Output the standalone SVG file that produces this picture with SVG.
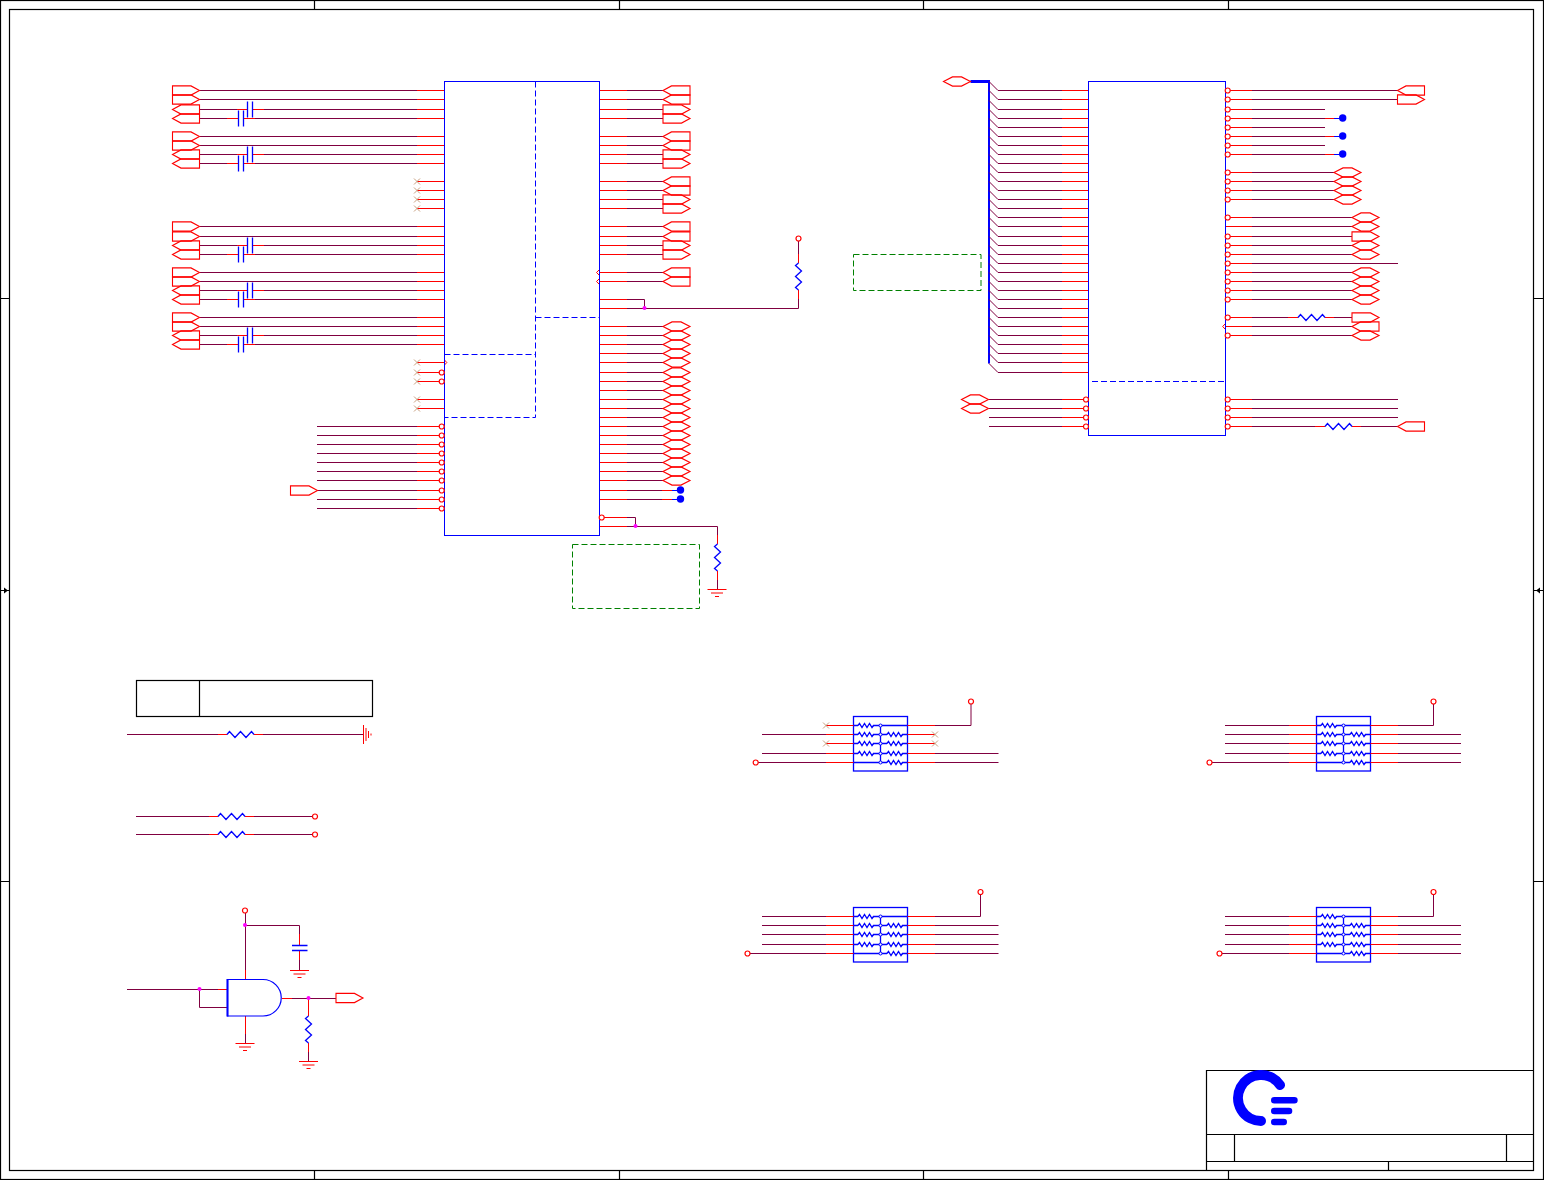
<svg xmlns="http://www.w3.org/2000/svg" width="1544" height="1180" viewBox="0 0 1544 1180">
<style>
.k{fill:none;stroke:#000;stroke-width:1.2}
.p{fill:none;stroke:#800040;stroke-width:1}
.r{fill:none;stroke:#f00;stroke-width:1}
.b{fill:none;stroke:#00f;stroke-width:1}
.z{fill:none;stroke:#00f;stroke-width:1.3}
.d{fill:none;stroke:#00f;stroke-width:1;stroke-dasharray:6 3}
.g{fill:none;stroke:#008000;stroke-width:1;stroke-dasharray:6 3}
.port{fill:none;stroke:#f00;stroke-width:1.1}
.pin{fill:#fff;stroke:#f00;stroke-width:1.2}
.x{fill:none;stroke:#c8a080;stroke-width:1}
.j{fill:#f0f}
.dot{fill:#00f}
</style>
<defs>
<path id="hex" class="port" d="M0 0L9 -4.6H18L27 0L18 4.6H9Z"/>
<path id="pr" class="port" d="M0 -4.6H18.5L27 0L18.5 4.6H0Z"/>
<path id="pl" class="port" d="M0 0L8.5 -4.6H27V4.6H8.5Z"/>
<circle id="c" class="pin" r="2.5"/>
<circle id="dt" class="dot" r="3.7"/>
<circle id="jn" class="j" r="2"/>
<path id="xx" class="x" d="M-3 -3L3 3M-3 3L3 -3"/>
<path id="rh" class="z" d="M0 0L2.5 -3L8 3L13.5 -3L19 3L24.5 -3L27 0"/>
<path id="rv" class="z" d="M0 0L-3 2.5L3 8L-3 13.5L3 19L-3 24.5L0 27"/>
<path id="rs" class="z" d="M0 0l1.5 -2l2.5 4l2.5 -4l2.5 4l2.5 -4l2.5 4l1.5 -2"/>
<path id="gnd" class="r" d="M-9.5 0H9.5M-6 3.5H6M-2 7H2"/>
<g id="dcap">
<path class="p" d="M200 0H237M264 0H417M200 9H227M255 9H417"/>
<path class="r" d="M237 0H247.5M252.5 0H264M227 9H238.5M243.5 9H255"/>
<path class="z" d="M247.5 -8V8M252.5 -8V8M238.5 1V17M243.5 1V17"/>
</g>
<g id="net">
<rect class="z" x="853.5" y="716.5" width="54" height="54.5"/>
<path class="z" d="M853.5 725.5H858M873 725.5H907.5M853.5 734.5H858M873 734.5H887M902 734.5H907.5M853.5 743.5H858M873 743.5H887M902 743.5H907.5M853.5 753.5H858M873 753.5H887M902 753.5H907.5M853.5 762.5H887M902 762.5H907.5M880.5 725.5V762.5"/>
<use href="#rs" x="858" y="725.5"/><use href="#rs" x="858" y="734.5"/><use href="#rs" x="858" y="743.5"/><use href="#rs" x="858" y="753.5"/>
<use href="#rs" x="887" y="734.5"/><use href="#rs" x="887" y="743.5"/><use href="#rs" x="887" y="753.5"/><use href="#rs" x="887" y="762.5"/>
<g fill="#fff" stroke="#00f"><circle cx="880.5" cy="725.5" r="1.5"/><circle cx="880.5" cy="734.5" r="1.5"/><circle cx="880.5" cy="743.5" r="1.5"/><circle cx="880.5" cy="753.5" r="1.5"/><circle cx="880.5" cy="762.5" r="1.5"/></g>
<path class="r" d="M826 725.5H853.5M826 734.5H853.5M826 743.5H853.5M826 753.5H853.5M826 762.5H853.5M907.5 725.5H935M907.5 734.5H935M907.5 743.5H935M907.5 753.5H935M907.5 762.5H935"/>
</g>
</defs>

<g id="frame">
<rect class="k" x="0.5" y="0.5" width="1543" height="1179"/>
<rect class="k" x="9.5" y="9.5" width="1524" height="1161"/>
<path class="k" d="M314.5 0V9M619.5 0V9M923.5 0V9M1228.5 0V9M314.5 1171V1180M619.5 1171V1180M923.5 1171V1180M1228.5 1171V1180M0 298.5H9M0 881.5H9M1534 298.5H1544M1534 881.5H1544M0 590.5H9M1534 590.5H1544"/>
<path d="M8 590.5L4 587.5V593.5Z"/><path d="M1536 590.5L1540 587.5V593.5Z"/>
</g>

<g id="title-block">
<path class="k" d="M1206.5 1170.5V1070.5H1533.5M1206.5 1134.5H1533.5M1206.5 1161.5H1533.5M1234.5 1134.5V1161.5M1506.5 1134.5V1161.5M1388.5 1161.5V1170.5"/>
<path d="M1280 1085A23 23 0 1 0 1261 1121" fill="none" stroke="#00f" stroke-width="10" stroke-linecap="round"/>
<path d="M1274.3 1100.3H1294.4M1274.3 1111H1289M1274.3 1122H1283.7" fill="none" stroke="#00f" stroke-width="6.6" stroke-linecap="round"/>
</g>

<g id="legend-table">
<rect class="k" x="136.5" y="680.5" width="236" height="36"/>
<path class="k" d="M199.5 680.5V716.5"/>
</g>

<g id="connectors">
<g id="w1">
<use href="#dcap" y="109.5"/><use href="#dcap" y="154.5"/><use href="#dcap" y="245.5"/><use href="#dcap" y="290.5"/><use href="#dcap" y="335.5"/>
<path class="p" d="M200 90.5H417M200 99.5H417M200 136.5H417M200 145.5H417M200 226.5H417M200 236.5H417M200 272.5H417M200 281.5H417M200 317.5H417M200 326.5H417M317 426.5H417M317 435.5H417M317 444.5H417M317 453.5H417M317 462.5H417M317 471.5H417M317 480.5H417M317 490.5H417M317 499.5H417M317 508.5H417"/>
<path class="r" d="M417 90.5H444M417 99.5H444M417 109.5H444M417 118.5H444M417 136.5H444M417 145.5H444M417 154.5H444M417 163.5H444M417 181.5H444M417 190.5H444M417 199.5H444M417 208.5H444M417 226.5H444M417 236.5H444M417 245.5H444M417 254.5H444M417 272.5H444M417 281.5H444M417 290.5H444M417 299.5H444M417 317.5H444M417 326.5H444M417 335.5H444M417 344.5H444M417 362.5H444M417 372.5H444M417 381.5H444M417 399.5H444M417 408.5H444M417 426.5H444M417 435.5H444M417 444.5H444M417 453.5H444M417 462.5H444M417 471.5H444M417 480.5H444M417 490.5H444M417 499.5H444M417 508.5H444"/>
</g>
<g id="w2">
<path class="r" d="M599 90.5H627M599 99.5H627M599 109.5H627M599 118.5H627M599 136.5H627M599 145.5H627M599 154.5H627M599 163.5H627M599 181.5H627M599 190.5H627M599 199.5H627M599 208.5H627M599 226.5H627M599 236.5H627M599 245.5H627M599 254.5H627M599 272.5H627M599 281.5H627M599 299.5H627M599 308.5H627M599 326.5H627M599 335.5H627M599 344.5H627M599 353.5H627M599 362.5H627M599 372.5H627M599 381.5H627M599 390.5H627M599 399.5H627M599 408.5H627M599 417.5H627M599 426.5H627M599 435.5H627M599 444.5H627M599 453.5H627M599 462.5H627M599 471.5H627M599 480.5H627M599 490.5H627M599 499.5H627M604 517.5H627M599 526.5H627"/>
<path class="p" d="M627 90.5H663M627 99.5H663M627 109.5H663M627 118.5H663M627 136.5H663M627 145.5H663M627 154.5H663M627 163.5H663M627 181.5H663M627 190.5H663M627 199.5H663M627 208.5H663M627 226.5H663M627 236.5H663M627 245.5H663M627 254.5H663M627 272.5H663M627 281.5H663M627 326.5H663M627 335.5H663M627 344.5H663M627 353.5H663M627 362.5H663M627 372.5H663M627 381.5H663M627 390.5H663M627 399.5H663M627 408.5H663M627 417.5H663M627 426.5H663M627 435.5H663M627 444.5H663M627 453.5H663M627 462.5H663M627 471.5H663M627 480.5H663M627 490.5H662M627 499.5H662M627 299.5H644.5V308.5M627 308.5H798.5V299M798.5 254V241M627 517.5H635.5V526.5M627 526.5H717.5V535M717.5 580V589"/>
<path class="r" d="M662 490.5H672M662 499.5H672M798.5 299V290M798.5 263V254M717.5 535V544M717.5 571V580"/>
<path class="b" d="M672 490.5H680M672 499.5H680"/>
<path class="r" d="M599 270L596.5 272.5L599 275M599 279L596.5 281.5L599 284M444.5 360L446.8 362.5L444.5 365"/>
</g>
<g id="w3">
<path class="b" d="M970.5 81.5H989" style="stroke-width:3"/>
<path class="b" d="M989 80V363.5" style="stroke-width:2"/>
<path class="p" d="M989 81.5L998 90.5H1062M989 90.5L998 99.5H1062M989 100.5L998 109.5H1062M989 109.5L998 118.5H1062M989 118.5L998 127.5H1062M989 127.5L998 136.5H1062M989 136.5L998 145.5H1062M989 145.5L998 154.5H1062M989 154.5L998 163.5H1062M989 163.5L998 172.5H1062M989 172.5L998 181.5H1062M989 181.5L998 190.5H1062M989 190.5L998 199.5H1062M989 199.5L998 208.5H1062M989 208.5L998 217.5H1062M989 217.5L998 226.5H1062M989 227.5L998 236.5H1062M989 236.5L998 245.5H1062M989 245.5L998 254.5H1062M989 254.5L998 263.5H1062M989 263.5L998 272.5H1062M989 272.5L998 281.5H1062M989 281.5L998 290.5H1062M989 290.5L998 299.5H1062M989 299.5L998 308.5H1062M989 308.5L998 317.5H1062M989 317.5L998 326.5H1062M989 326.5L998 335.5H1062M989 335.5L998 344.5H1062M989 344.5L998 353.5H1062M989 353.5L998 362.5H1062M989 363.5L998 372.5H1062M989 399.5H1062M989 408.5H1062M989 417.5H1062M989 426.5H1062"/>
<path class="r" d="M1062 90.5H1088M1062 99.5H1088M1062 109.5H1088M1062 118.5H1088M1062 127.5H1088M1062 136.5H1088M1062 145.5H1088M1062 154.5H1088M1062 163.5H1088M1062 172.5H1088M1062 181.5H1088M1062 190.5H1088M1062 199.5H1088M1062 208.5H1088M1062 217.5H1088M1062 226.5H1088M1062 236.5H1088M1062 245.5H1088M1062 254.5H1088M1062 263.5H1088M1062 272.5H1088M1062 281.5H1088M1062 290.5H1088M1062 299.5H1088M1062 308.5H1088M1062 317.5H1088M1062 326.5H1088M1062 335.5H1088M1062 344.5H1088M1062 353.5H1088M1062 362.5H1088M1062 372.5H1088M1062 399.5H1084M1062 408.5H1084M1062 417.5H1084M1062 426.5H1084"/>
</g>
<g id="w4">
<path class="r" d="M1228 90.5H1252M1228 99.5H1252M1228 109.5H1252M1228 118.5H1252M1228 127.5H1252M1228 136.5H1252M1228 145.5H1252M1228 154.5H1252M1228 172.5H1252M1228 181.5H1252M1228 190.5H1252M1228 199.5H1252M1228 217.5H1252M1225 226.5H1252M1228 236.5H1252M1228 245.5H1252M1228 254.5H1252M1228 263.5H1252M1228 272.5H1252M1228 281.5H1252M1228 290.5H1252M1228 299.5H1252M1228 317.5H1252M1225 326.5H1252M1228 335.5H1252M1228 399.5H1252M1228 408.5H1252M1228 417.5H1252M1228 426.5H1252M1325 118.5H1334M1325 136.5H1334M1325 154.5H1334M1288 317.5H1298M1325 317.5H1334M1315 426.5H1325M1352 426.5H1361M1225 324L1222.7 326.5L1225 329"/>
<path class="p" d="M1252 90.5H1397.5M1252 99.5H1397.5M1252 109.5H1325M1252 118.5H1325M1252 127.5H1325M1252 136.5H1325M1252 145.5H1325M1252 154.5H1325M1252 172.5H1334M1252 181.5H1334M1252 190.5H1334M1252 199.5H1334M1252 217.5H1352M1252 226.5H1352M1252 236.5H1352M1252 245.5H1352M1252 254.5H1352M1252 263.5H1398M1252 272.5H1352M1252 281.5H1352M1252 290.5H1352M1252 299.5H1352M1252 317.5H1288M1334 317.5H1352M1252 326.5H1352M1252 335.5H1352M1252 399.5H1398M1252 408.5H1398M1252 417.5H1398M1252 426.5H1315M1361 426.5H1397.5"/>
<path class="b" d="M1334 118.5H1342M1334 136.5H1342M1334 154.5H1342"/>
</g>
<g id="w5">
<path class="p" d="M127 734.5H218M263 734.5H363M136 816.5H209M254 816.5H312M136 834.5H209M254 834.5H312"/>
<path class="r" d="M218 734.5H227M254 734.5H263M209 816.5H218M245 816.5H254M209 834.5H218M245 834.5H254"/>
<path class="r" d="M363.5 725V744M366 728V741M368.5 731V738M371 733.5V735.5"/>
</g>
<g id="w6">
<path class="p" d="M245.5 913V970M245.5 925.5H299.5V934M299.5 960V970M127 989.5H218M199.5 989.5V1007.5H227M245.5 1034V1043M292 998.5H336M308.5 1052V1061"/>
<path class="r" d="M245.5 970V979M218 989.5H227M245.5 1016V1034M282 998.5H292M299.5 934V945M299.5 950.5V960M308.5 998.5V1016M308.5 1043V1052"/>
<path class="z" d="M292 945.5H307.5M292 950.5H307.5"/>
</g>
<g id="w7">
<path class="p" d="M762 734.5H826M762 753.5H826M758 762.5H826M935 725.5H971V704M935 753.5H998.5M935 762.5H998.5"/>
<path class="p" d="M1225 725.5H1289M1225 734.5H1289M1225 743.5H1289M1225 753.5H1289M1212 762.5H1289M1398 725.5H1433.5V704M1398 734.5H1461M1398 743.5H1461M1398 753.5H1461M1398 762.5H1461"/>
<path class="p" d="M762 916.5H826M762 925.5H826M762 934.5H826M762 944.5H826M750 953.5H826M935 916.5H980.5V895M935 925.5H998.5M935 934.5H998.5M935 944.5H998.5M935 953.5H998.5"/>
<path class="p" d="M1225 916.5H1289M1225 925.5H1289M1225 934.5H1289M1225 944.5H1289M1222 953.5H1289M1398 916.5H1433.5V895M1398 925.5H1461M1398 934.5H1461M1398 944.5H1461M1398 953.5H1461"/>
</g>
</g>

<g id="U1">
<rect class="b" x="444.5" y="81.5" width="155" height="454"/>
<path class="d" d="M535.5 81.5V417.5H444.5M535.5 317.5H599.5M444.5 354.5H535.5"/>
<g id="u1-pins">
<use href="#c" x="441.7" y="372.5"/><use href="#c" x="441.7" y="381.5"/><use href="#c" x="441.7" y="426.5"/><use href="#c" x="441.7" y="435.5"/><use href="#c" x="441.7" y="444.5"/><use href="#c" x="441.7" y="453.5"/><use href="#c" x="441.7" y="462.5"/><use href="#c" x="441.7" y="471.5"/><use href="#c" x="441.7" y="480.5"/><use href="#c" x="441.7" y="490.5"/><use href="#c" x="441.7" y="499.5"/><use href="#c" x="441.7" y="508.5"/><use href="#c" x="601.7" y="517.5"/>
</g>
<g id="u1-nc">
<use href="#xx" x="417" y="181.5"/><use href="#xx" x="417" y="190.5"/><use href="#xx" x="417" y="199.5"/><use href="#xx" x="417" y="208.5"/><use href="#xx" x="417" y="362.5"/><use href="#xx" x="417" y="372.5"/><use href="#xx" x="417" y="381.5"/><use href="#xx" x="417" y="399.5"/><use href="#xx" x="417" y="408.5"/>
</g>
</g>

<g id="U2">
<rect class="b" x="1088.5" y="81.5" width="137" height="354"/>
<path class="d" d="M1092 381.5H1225.5"/>
<g id="u2-pins">
<use href="#c" x="1086" y="399.5"/><use href="#c" x="1086" y="408.5"/><use href="#c" x="1086" y="417.5"/><use href="#c" x="1086" y="426.5"/>
<use href="#c" x="1227.7" y="90.5"/><use href="#c" x="1227.7" y="99.5"/><use href="#c" x="1227.7" y="109.5"/><use href="#c" x="1227.7" y="118.5"/><use href="#c" x="1227.7" y="127.5"/><use href="#c" x="1227.7" y="136.5"/><use href="#c" x="1227.7" y="145.5"/><use href="#c" x="1227.7" y="154.5"/><use href="#c" x="1227.7" y="172.5"/><use href="#c" x="1227.7" y="181.5"/><use href="#c" x="1227.7" y="190.5"/><use href="#c" x="1227.7" y="199.5"/><use href="#c" x="1227.7" y="217.5"/><use href="#c" x="1227.7" y="236.5"/><use href="#c" x="1227.7" y="245.5"/><use href="#c" x="1227.7" y="254.5"/><use href="#c" x="1227.7" y="263.5"/><use href="#c" x="1227.7" y="272.5"/><use href="#c" x="1227.7" y="281.5"/><use href="#c" x="1227.7" y="290.5"/><use href="#c" x="1227.7" y="299.5"/><use href="#c" x="1227.7" y="317.5"/><use href="#c" x="1227.7" y="335.5"/><use href="#c" x="1227.7" y="399.5"/><use href="#c" x="1227.7" y="408.5"/><use href="#c" x="1227.7" y="417.5"/><use href="#c" x="1227.7" y="426.5"/>
</g>
</g>

<g id="ports-left">
<use href="#pr" x="172.5" y="90.5"/><use href="#pr" x="172.5" y="99.5"/><use href="#pr" x="172.5" y="136.5"/><use href="#pr" x="172.5" y="145.5"/><use href="#pr" x="172.5" y="226.5"/><use href="#pr" x="172.5" y="236.5"/><use href="#pr" x="172.5" y="272.5"/><use href="#pr" x="172.5" y="281.5"/><use href="#pr" x="172.5" y="317.5"/><use href="#pr" x="172.5" y="326.5"/>
<use href="#pl" x="172.5" y="109.5"/><use href="#pl" x="172.5" y="118.5"/><use href="#pl" x="172.5" y="154.5"/><use href="#pl" x="172.5" y="163.5"/><use href="#pl" x="172.5" y="245.5"/><use href="#pl" x="172.5" y="254.5"/><use href="#pl" x="172.5" y="290.5"/><use href="#pl" x="172.5" y="299.5"/><use href="#pl" x="172.5" y="335.5"/><use href="#pl" x="172.5" y="344.5"/>
<use href="#pr" x="290.5" y="490.5"/>
</g>

<g id="ports-mid">
<use href="#pl" x="663" y="90.5"/><use href="#pl" x="663" y="99.5"/><use href="#pl" x="663" y="136.5"/><use href="#pl" x="663" y="145.5"/><use href="#pl" x="663" y="181.5"/><use href="#pl" x="663" y="190.5"/><use href="#pl" x="663" y="226.5"/><use href="#pl" x="663" y="236.5"/><use href="#pl" x="663" y="272.5"/><use href="#pl" x="663" y="281.5"/>
<use href="#pr" x="663" y="109.5"/><use href="#pr" x="663" y="118.5"/><use href="#pr" x="663" y="154.5"/><use href="#pr" x="663" y="163.5"/><use href="#pr" x="663" y="199.5"/><use href="#pr" x="663" y="208.5"/><use href="#pr" x="663" y="245.5"/><use href="#pr" x="663" y="254.5"/>
<use href="#hex" x="663" y="326.5"/><use href="#hex" x="663" y="335.5"/><use href="#hex" x="663" y="344.5"/><use href="#hex" x="663" y="353.5"/><use href="#hex" x="663" y="362.5"/><use href="#hex" x="663" y="372.5"/><use href="#hex" x="663" y="381.5"/><use href="#hex" x="663" y="390.5"/><use href="#hex" x="663" y="399.5"/><use href="#hex" x="663" y="408.5"/><use href="#hex" x="663" y="417.5"/><use href="#hex" x="663" y="426.5"/><use href="#hex" x="663" y="435.5"/><use href="#hex" x="663" y="444.5"/><use href="#hex" x="663" y="453.5"/><use href="#hex" x="663" y="462.5"/><use href="#hex" x="663" y="471.5"/><use href="#hex" x="663" y="480.5"/>
<use href="#dt" x="680.5" y="490"/><use href="#dt" x="680.5" y="499"/>
<use href="#jn" x="644.5" y="308"/><use href="#jn" x="635.5" y="526"/>
</g>

<g id="pullup-R">
<use href="#c" x="798.5" y="238.5"/>
<use href="#rv" x="798.5" y="263"/>
</g>
<g id="pulldown-R">
<use href="#rv" x="717.5" y="544"/>
<use href="#gnd" x="717" y="589.5"/>
</g>

<g id="note-boxes">
<rect class="g" x="853.5" y="254.5" width="127.5" height="36"/>
<rect class="g" x="572.5" y="544.5" width="127" height="64"/>
</g>

<g id="ports-u2">
<use href="#hex" x="943.5" y="81.5"/>
<use href="#hex" x="961.5" y="399.5"/><use href="#hex" x="961.5" y="408.5"/>
<use href="#pl" x="1397.5" y="90.5"/><use href="#pr" x="1397.5" y="99.5"/>
<use href="#dt" x="1342.7" y="118"/><use href="#dt" x="1342.7" y="136"/><use href="#dt" x="1342.7" y="154"/>
<use href="#hex" x="1334" y="172.5"/><use href="#hex" x="1334" y="181.5"/><use href="#hex" x="1334" y="190.5"/><use href="#hex" x="1334" y="199.5"/>
<use href="#hex" x="1352" y="217.5"/><use href="#hex" x="1352" y="226.5"/><use href="#pr" x="1352" y="236.5"/><use href="#hex" x="1352" y="245.5"/><use href="#hex" x="1352" y="254.5"/>
<use href="#hex" x="1352" y="272.5"/><use href="#hex" x="1352" y="281.5"/><use href="#hex" x="1352" y="290.5"/><use href="#hex" x="1352" y="299.5"/>
<use href="#pr" x="1352" y="317.5"/><use href="#pl" x="1352" y="326.5"/><use href="#hex" x="1352" y="335.5"/>
<use href="#pl" x="1397.5" y="426.5"/>
<use href="#rh" x="1298" y="317.5"/><use href="#rh" x="1325" y="426.5"/>
</g>

<g id="R-row1"><use href="#rh" x="227" y="734.5"/></g>
<g id="R-row2"><use href="#rh" x="218" y="816.5"/><use href="#c" x="315" y="816.5"/></g>
<g id="R-row3"><use href="#rh" x="218" y="834.5"/><use href="#c" x="315" y="834.5"/></g>

<g id="gate">
<path d="M227.5 979.5H263A18.2 18.2 0 0 1 263 1016H227.5Z" fill="#fff" stroke="#00f" stroke-width="1.2"/>
<path class="b" d="M227.5 979V1016.5" style="stroke-width:2"/>
<use href="#c" x="245" y="910.5"/>
<use href="#jn" x="245" y="925"/><use href="#jn" x="199.5" y="989"/><use href="#jn" x="308.5" y="998"/>
<use href="#gnd" x="299.5" y="970.5"/><use href="#gnd" x="245" y="1043.5"/><use href="#gnd" x="308.5" y="1061.5"/>
<use href="#rv" x="308.5" y="1016"/>
<use href="#pr" x="336" y="998"/>
</g>

<g id="RN1">
<use href="#net"/>
<use href="#xx" x="826" y="725.5"/><use href="#xx" x="826" y="743.5"/><use href="#xx" x="935" y="734.5"/><use href="#xx" x="935" y="743.5"/>
<use href="#c" x="755.7" y="762.5"/><use href="#c" x="971" y="701.5"/>
</g>
<g id="RN2">
<use href="#net" x="463"/>
<use href="#c" x="1209.5" y="762.5"/><use href="#c" x="1433.5" y="701.5"/>
</g>
<g id="RN3">
<use href="#net" y="191"/>
<use href="#c" x="747.5" y="953.5"/><use href="#c" x="980.5" y="892"/>
</g>
<g id="RN4">
<use href="#net" x="463" y="191"/>
<use href="#c" x="1219.5" y="953.5"/><use href="#c" x="1433.5" y="892"/>
</g>
</svg>
